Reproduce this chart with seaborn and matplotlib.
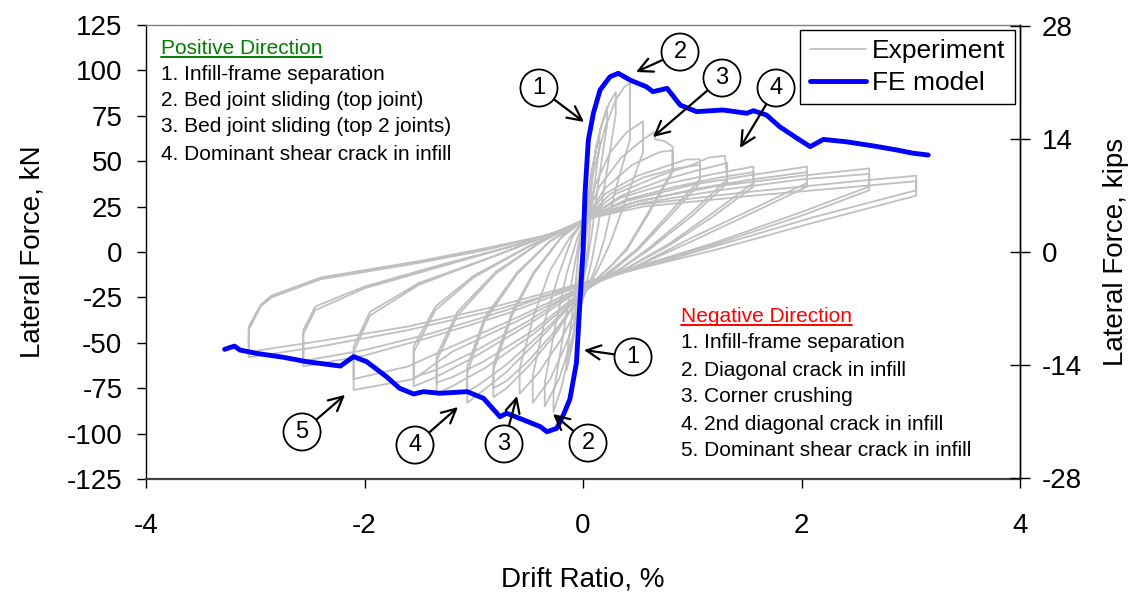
import numpy as np
import pandas as pd
import matplotlib
matplotlib.use("Agg")
import matplotlib.pyplot as plt
import seaborn as sns
from matplotlib.lines import Line2D

# ---------------- data (drift %, lateral force kN) ----------------
cyc01 = [(0.00, 0), (0.04, 25), (0.08, 40), (0.08, 36), (0.03, 8), (0.00, -5),
         (-0.04, -25), (-0.08, -40), (-0.08, -36), (-0.03, -8), (0.00, 5)]
cyc02 = [(0.00, 5), (0.05, 28), (0.10, 50), (0.15, 65), (0.15, 58), (0.08, 25),
         (0.04, 0), (0.00, -15), (-0.05, -35), (-0.10, -52), (-0.15, -65),
         (-0.15, -58), (-0.08, -25), (-0.04, 0), (0.00, 12)]
cyc03 = [(0.00, 12), (0.06, 35), (0.12, 58), (0.18, 72), (0.22, 80), (0.22, 70),
         (0.14, 38), (0.08, 10), (0.04, -5), (-0.04, -30), (-0.12, -55),
         (-0.20, -75), (-0.27, -88), (-0.27, -78), (-0.18, -45), (-0.10, -15),
         (-0.04, 5), (0.00, 15)]
cyc04 = [(0.00, 15), (0.08, 45), (0.16, 68), (0.24, 82), (0.30, 88), (0.30, 76),
         (0.22, 45), (0.14, 15), (0.08, -5), (0.00, -25), (-0.10, -48),
         (-0.22, -70), (-0.35, -85), (-0.35, -72), (-0.25, -40), (-0.15, -12),
         (-0.05, 8), (0.02, 18)]
cyc05 = [(0.02, 18), (0.10, 45), (0.20, 68), (0.30, 84), (0.38, 91), (0.43, 93),
         (0.43, 62), (0.30, 35), (0.20, 8), (0.12, -8), (0.00, -25),
         (-0.15, -50), (-0.30, -70), (-0.46, -83), (-0.46, -68), (-0.35, -38),
         (-0.22, -12), (-0.10, 8), (0.02, 18)]
cyc06 = [(0.02, 18), (0.12, 38), (0.25, 55), (0.40, 66), (0.55, 72), (0.55, 55),
         (0.40, 30), (0.25, 5), (0.15, -8), (0.00, -25), (-0.20, -48),
         (-0.40, -66), (-0.58, -78), (-0.58, -64), (-0.45, -35), (-0.30, -10),
         (-0.12, 8), (0.02, 18)]
cyc07 = [(0.02, 18), (0.15, 36), (0.35, 52), (0.55, 62), (0.65, 66), (0.66, 62),
         (0.75, 61), (0.82, 58), (0.82, 45), (0.60, 22), (0.40, 2), (0.25, -8),
         (0.00, -22), (-0.25, -45), (-0.50, -63), (-0.70, -75), (-0.82, -80),
         (-0.82, -65), (-0.65, -35), (-0.45, -12), (-0.20, 8), (0.02, 18)]
cyc07b = [(0.02, 18), (0.20, 35), (0.45, 48), (0.70, 55), (0.82, 56), (0.82, 44),
          (0.60, 21), (0.40, 1), (0.25, -8), (0.00, -22), (-0.25, -43),
          (-0.50, -60), (-0.70, -71), (-0.82, -75), (-0.82, -62), (-0.65, -33),
          (-0.45, -11), (-0.20, 8), (0.02, 18)]
cyc08 = [(0.02, 18), (0.20, 32), (0.50, 42), (0.80, 48), (0.95, 51), (1.07, 51),
         (1.07, 40), (0.80, 22), (0.50, 2), (0.30, -8), (0.00, -22), (-0.35, -45),
         (-0.70, -66), (-0.95, -78), (-1.06, -83), (-1.06, -67), (-0.90, -38),
         (-0.60, -12), (-0.30, 6), (0.02, 18)]
cyc08b = [(0.02, 18), (0.25, 32), (0.55, 41), (0.85, 46), (1.07, 48), (1.07, 38),
          (0.80, 20), (0.50, 1), (0.30, -9), (0.00, -22), (-0.35, -43),
          (-0.70, -62), (-0.95, -73), (-1.06, -77), (-1.06, -63), (-0.90, -36),
          (-0.60, -11), (-0.30, 6), (0.02, 18)]
cyc09 = [(0.02, 18), (0.30, 32), (0.70, 42), (1.00, 48), (1.15, 52), (1.30, 53),
         (1.32, 40), (1.00, 22), (0.60, 2), (0.35, -9), (0.00, -22), (-0.45, -45),
         (-0.90, -64), (-1.20, -74), (-1.34, -78), (-1.34, -60), (-1.15, -35),
         (-0.80, -12), (-0.40, 5), (0.02, 18)]
cyc09b = [(0.02, 18), (0.35, 31), (0.75, 40), (1.05, 45), (1.32, 49), (1.32, 38),
          (1.00, 20), (0.60, 1), (0.35, -9), (0.00, -21), (-0.45, -43),
          (-0.90, -60), (-1.20, -69), (-1.34, -72), (-1.34, -57), (-1.15, -33),
          (-0.80, -11), (-0.40, 5), (0.02, 18)]
cyc10 = [(0.02, 18), (0.35, 30), (0.80, 38), (1.20, 43), (1.56, 47), (1.56, 38),
         (1.20, 22), (0.80, 5), (0.40, -9), (0.00, -20), (-0.50, -40),
         (-1.00, -58), (-1.35, -69), (-1.55, -74), (-1.55, -55), (-1.35, -32),
         (-1.00, -14), (-0.50, 3), (0.02, 18)]
cyc10b = [(0.02, 18), (0.40, 29), (0.85, 36), (1.25, 41), (1.56, 44), (1.56, 36),
          (1.20, 20), (0.80, 4), (0.40, -9), (0.00, -19), (-0.50, -38),
          (-1.00, -55), (-1.35, -65), (-1.55, -69), (-1.55, -52), (-1.35, -30),
          (-1.00, -13), (-0.50, 3), (0.02, 18)]
cyc11 = [(0.02, 18), (0.40, 28), (1.00, 37), (1.50, 42), (2.05, 47), (2.05, 38),
         (1.60, 25), (1.00, 8), (0.45, -9), (0.00, -20), (-0.60, -38),
         (-1.20, -55), (-1.55, -70), (-2.10, -76), (-2.10, -55), (-1.95, -35),
         (-1.50, -18), (-0.80, -2), (-0.20, 12), (0.02, 18)]
cyc11b = [(0.02, 18), (0.45, 27), (1.05, 35), (1.55, 40), (2.05, 44), (2.05, 36),
          (1.60, 23), (1.00, 6), (0.45, -9), (0.00, -19), (-0.60, -36),
          (-1.20, -52), (-1.60, -63), (-2.10, -70), (-2.10, -52), (-1.95, -33),
          (-1.50, -17), (-0.80, -2), (-0.20, 12), (0.02, 18)]
cyc12 = [(0.02, 18), (0.50, 28), (1.20, 36), (2.00, 42), (2.62, 46), (2.62, 36),
         (2.00, 22), (1.20, 5), (0.45, -9), (0.00, -18), (-0.70, -34),
         (-1.40, -47), (-2.00, -57), (-2.56, -63), (-2.56, -45), (-2.45, -32),
         (-2.00, -20), (-1.30, -8), (-0.60, 4), (-0.20, 12), (0.02, 18)]
cyc12b = [(0.02, 18), (0.55, 27), (1.25, 34), (2.00, 40), (2.62, 43), (2.62, 34),
          (2.00, 20), (1.20, 4), (0.45, -9), (0.00, -17), (-0.70, -32),
          (-1.40, -45), (-2.00, -54), (-2.56, -60), (-2.56, -43), (-2.45, -30),
          (-2.00, -19), (-1.30, -7), (-0.60, 4), (-0.20, 12), (0.02, 18)]
cyc13 = [(0.02, 18), (0.50, 26), (1.50, 33), (2.50, 39), (3.05, 42), (3.05, 34),
         (2.10, 19), (1.20, 3), (0.45, -10), (0.00, -18), (-0.80, -32),
         (-1.60, -43), (-2.40, -52), (-3.06, -58), (-3.06, -43), (-2.95, -30),
         (-2.85, -25), (-2.40, -15), (-1.50, -6), (-0.90, 1), (-0.27, 10),
         (0.02, 18)]
cyc13b = [(0.02, 18), (0.55, 25), (1.55, 31), (2.50, 36), (3.05, 39), (3.05, 31),
          (2.10, 16), (1.20, 1), (0.45, -10), (0.00, -17), (-0.80, -30),
          (-1.60, -41), (-2.40, -49), (-3.06, -55), (-3.06, -41), (-2.95, -29),
          (-2.85, -24), (-2.40, -14), (-1.50, -5), (-0.90, 2), (-0.27, 10)]

fe_drift = [-3.28, -3.19, -3.14, -2.99, -2.74, -2.53, -2.22, -2.10, -1.98, -1.80,
            -1.68, -1.55, -1.46, -1.31, -1.06, -0.91, -0.76, -0.70, -0.58, -0.39,
            -0.33, -0.24, -0.18, -0.12, -0.06, -0.03, 0.00, 0.018, 0.049, 0.095,
            0.156, 0.247, 0.323, 0.43, 0.58, 0.64, 0.77, 0.89, 1.04, 1.28, 1.50,
            1.56, 1.68, 1.80, 1.96, 2.08, 2.20, 2.41, 2.66, 2.87, 3.02, 3.16]
fe_force = [-53.6, -51.8, -54.0, -55.8, -58.0, -60.4, -62.8, -57.6, -60.4, -68.6,
            -75.0, -78.2, -76.9, -77.8, -76.9, -80.6, -90.7, -88.8, -91.6, -96.2,
            -99.0, -97.1, -89.8, -81.0, -61.0, -30.0, 0.0, 32.0, 61.7, 76.4,
            89.2, 96.5, 98.4, 94.7, 91.0, 88.3, 90.1, 80.9, 77.3, 78.2, 76.4,
            77.8, 75.4, 69.0, 62.6, 58.0, 62.0, 60.7, 58.4, 56.2, 54.4, 53.4]

x_ticks = [-4, -2, 0, 2, 4]
y_ticks_kn = [-125, -100, -75, -50, -25, 0, 25, 50, 75, 100, 125]
y_ticks_kips = [-28, -14, 0, 14, 28]
KN_PER_KIP = 4.448

pos_title = "Positive Direction"
pos_items = ["1. Infill-frame separation", "2. Bed joint sliding (top joint)",
             "3. Bed joint sliding (top 2 joints)", "4. Dominant shear crack in infill"]
neg_title = "Negative Direction"
neg_items = ["1. Infill-frame separation", "2. Diagonal crack in infill",
             "3. Corner crushing", "4. 2nd diagonal crack in infill",
             "5. Dominant shear crack in infill"]

# ---------------- style ----------------
sns.set_theme(style="white")
plt.rcParams["font.family"] = ["Liberation Sans", "DejaVu Sans"]
plt.rcParams["axes.unicode_minus"] = False
plt.rcParams["text.color"] = "black"
plt.rcParams["axes.labelcolor"] = "black"

W, H = 1130, 594
fig = plt.figure(figsize=(W / 100, H / 100), dpi=100)
L, R, T, B = 146, 1020, 25, 479
ax = fig.add_axes([L / W, 1 - B / H, (R - L) / W, (B - T) / H])

cycles = [cyc01, cyc02, cyc03, cyc04, cyc05, cyc06, cyc07, cyc07b, cyc08, cyc08b,
          cyc09, cyc09b, cyc10, cyc10b, cyc11, cyc11b, cyc12, cyc12b, cyc13, cyc13b]
exp_df = pd.DataFrame([p for c in cycles for p in c], columns=["drift", "force"])
fe_df = pd.DataFrame({"drift": fe_drift, "force": fe_force})

sns.lineplot(data=exp_df, x="drift", y="force", sort=False, estimator=None,
             color="#c0c0c0", lw=1.3, ax=ax, label="Experiment")
sns.lineplot(data=fe_df, x="drift", y="force", sort=False, estimator=None,
             color="#0000ff", lw=3.5, ax=ax, label="FE model")

ax.set_xlim(-4, 4)
ax.set_ylim(-125, 125)
ax.set_xticks(x_ticks)
ax.set_yticks(y_ticks_kn)
ax.set_xticklabels([str(v) for v in x_ticks])
ax.set_yticklabels([str(v) for v in y_ticks_kn])
ax.tick_params(axis="both", labelsize=20, colors="black")
ax.tick_params(axis="y", direction="out", length=6.5, width=1, pad=10.5, left=True)
ax.tick_params(axis="x", direction="out", length=6.5, width=1, pad=18, bottom=True)
ax.set_xlabel("Drift Ratio, %", fontsize=20, labelpad=20, color="black")
ax.set_ylabel("Lateral Force, kN", fontsize=20, labelpad=15, color="black")

for s in ["left", "right"]:
    ax.spines[s].set_color("black")
    ax.spines[s].set_linewidth(1.0)
ax.spines["top"].set_color("#808080")
ax.spines["top"].set_linewidth(1.0)
ax.spines["bottom"].set_color("#404040")
ax.spines["bottom"].set_linewidth(1.6)

ax2 = ax.twinx()
ax2.set_ylim(-125 / KN_PER_KIP, 125 / KN_PER_KIP)
ax2.set_yticks(y_ticks_kips)
ax2.set_yticklabels([str(v) for v in y_ticks_kips])
ax2.tick_params(axis="y", direction="inout", length=14, width=1, pad=8.5,
                labelsize=20, right=True, colors="black")
ax2.set_ylabel("Lateral Force, kips", fontsize=20, labelpad=15, color="black")
for s in ["top", "bottom", "left"]:
    ax2.spines[s].set_visible(False)
ax2.spines["right"].set_color("black")
ax2.spines["right"].set_linewidth(1.0)

leg = ax.legend(loc="upper right", bbox_to_anchor=(1, 1), borderaxespad=0.19,
                fontsize=19, frameon=True, fancybox=False, edgecolor="black",
                handlelength=2.12, labelspacing=0.3, borderpad=0.35,
                handletextpad=0.25)
leg.get_frame().set_linewidth(1.0)
leg.get_frame().set_facecolor("white")
leg.get_frame().set_alpha(1)
for t in leg.get_texts():
    t.set_color("black")

# ---------------- callouts ----------------
callouts = [
    ("1", (-0.403, 90.3), (0.009, 71.6)),
    ("2", (0.888, 110.1), (0.485, 99.1)),
    ("3", (1.272, 95.8), (0.641, 63.3)),
    ("4", (1.767, 90.3), (1.437, 57.3)),
    ("1", (0.458, -57.8), (0.009, -54.0)),
    ("2", (0.046, -105.2), (-0.275, -89.2)),
    ("3", (-0.723, -105.7), (-0.604, -79.3)),
    ("4", (-1.538, -106.3), (-1.144, -85.4)),
    ("5", (-2.572, -99.1), (-2.178, -78.7)),
]
for txt, c, tip in callouts:
    ax.annotate(txt, xy=tip, xytext=c, ha="center", va="center", fontsize=17,
                color="black",
                bbox=dict(boxstyle="circle,pad=0.32", fc="white", ec="black", lw=1.3),
                arrowprops=dict(arrowstyle="->,head_length=0.6,head_width=0.3",
                                color="black", lw=1.6, shrinkA=0, shrinkB=0),
                zorder=5)

# ---------------- text blocks ----------------
def px2data(px, py):
    return (px - L) / ((R - L) / 8) - 4, (252 - py) / ((B - T) / 250)

FS = 15
titles = []
x0, y0 = px2data(161, 48)
titles.append(ax.text(x0, y0, pos_title, color="#008000", fontsize=FS, va="center", ha="left"))
for s, py in zip(pos_items, [74, 101, 127, 154]):
    xx, yy = px2data(161, py)
    ax.text(xx, yy, s, color="black", fontsize=FS, va="center", ha="left")
x0, y0 = px2data(681, 316)
titles.append(ax.text(x0, y0, neg_title, color="#ff0000", fontsize=FS, va="center", ha="left"))
for s, py in zip(neg_items, [343, 370, 397, 424, 451]):
    xx, yy = px2data(681, py)
    ax.text(xx, yy, s, color="black", fontsize=FS, va="center", ha="left")

fig.canvas.draw()
r = fig.canvas.get_renderer()
for t in titles:
    bb = t.get_window_extent(renderer=r)
    yline = bb.y0 + 1
    fig.add_artist(Line2D([bb.x0 / W, bb.x1 / W], [yline / H, yline / H],
                          transform=fig.transFigure, color=t.get_color(), lw=1.4))

fig.savefig("out.png", dpi=100)
